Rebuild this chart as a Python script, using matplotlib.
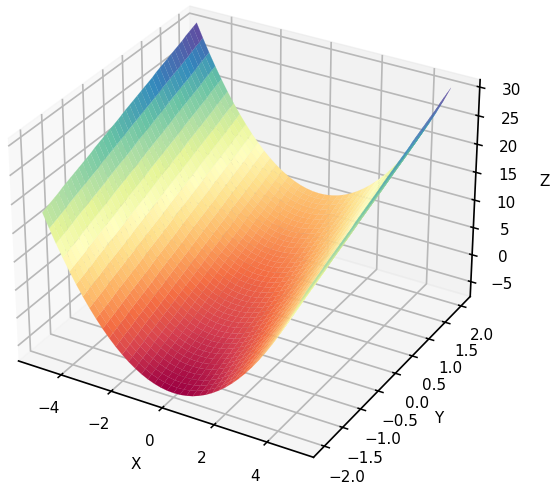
import matplotlib
matplotlib.use('Agg')
import matplotlib.pyplot as plt
import numpy as np

# height along X and the rise along Y
x_vals = [-5.0, -4.75, -4.5, -4.25, -4.0, -3.75, -3.5, -3.25, -3.0, -2.75, -2.5, -2.25, -2.0, -1.75, -1.5, -1.25, -1.0, -0.75, -0.5, -0.25, 0.0,
          0.25, 0.5, 0.75, 1.0, 1.25, 1.5, 1.75, 2.0, 2.25, 2.5, 2.75, 3.0, 3.25, 3.5, 3.75, 4.0, 4.25, 4.5, 4.75, 5.0]
z_along_x = [25.0, 22.56, 20.25, 18.06, 16.0, 14.06, 12.25, 10.56, 9.0, 7.56, 6.25, 5.06, 4.0, 3.06, 2.25, 1.56, 1.0, 0.56, 0.25, 0.06, 0.0,
             0.06, 0.25, 0.56, 1.0, 1.56, 2.25, 3.06, 4.0, 5.06, 6.25, 7.56, 9.0, 10.56, 12.25, 14.06, 16.0, 18.06, 20.25, 22.56, 25.0]
y_vals = [-2.0, -1.9, -1.8, -1.7, -1.6, -1.5, -1.4, -1.3, -1.2, -1.1, -1.0, -0.9, -0.8, -0.7, -0.6, -0.5, -0.4, -0.3, -0.2, -0.1, 0.0,
          0.1, 0.2, 0.3, 0.4, 0.5, 0.6, 0.7, 0.8, 0.9, 1.0, 1.1, 1.2, 1.3, 1.4, 1.5, 1.6, 1.7, 1.8, 1.9, 2.0]
z_along_y = [-7.0, -6.7, -6.4, -6.1, -5.8, -5.4, -5.1, -4.8, -4.5, -4.2, -3.9, -3.6, -3.3, -2.9, -2.6, -2.3, -2.0, -1.7, -1.4, -1.1, -0.75,
             -0.4, -0.1, 0.2, 0.5, 0.8, 1.1, 1.4, 1.7, 2.1, 2.4, 2.7, 3.0, 3.3, 3.6, 3.9, 4.2, 4.6, 4.9, 5.2, 5.5]

X, Y = np.meshgrid(x_vals, y_vals)
Z = np.add.outer(z_along_y, z_along_x)

plt.rcParams['font.size'] = 11
fig = plt.figure(figsize=(5.5, 4.88), dpi=100)
ax = fig.add_axes([-0.0785, -0.005, 1.035, 1.076], projection='3d')
surf = ax.plot_surface(X, Y, Z, cmap='Spectral', rcount=50, ccount=50, linewidth=0.1)
surf.set_edgecolor('face')
ax.set_xlabel('X', labelpad=8)
ax.set_ylabel('Y', labelpad=8)
ax.set_zlabel('Z', labelpad=10)
ax.tick_params(axis='x', pad=5.5)
ax.tick_params(axis='y', pad=6.5)
ax.tick_params(axis='z', pad=6)
for axis in (ax.xaxis, ax.yaxis, ax.zaxis):
    axis._axinfo['grid']['linewidth'] = 1.2
    axis._axinfo['grid']['color'] = '#b8b8b8'
    axis._axinfo['tick']['linewidth'] = {True: 1.1, False: 0.7}
    axis.line.set_linewidth(1.2)
fig.savefig('out.png', dpi=100)
